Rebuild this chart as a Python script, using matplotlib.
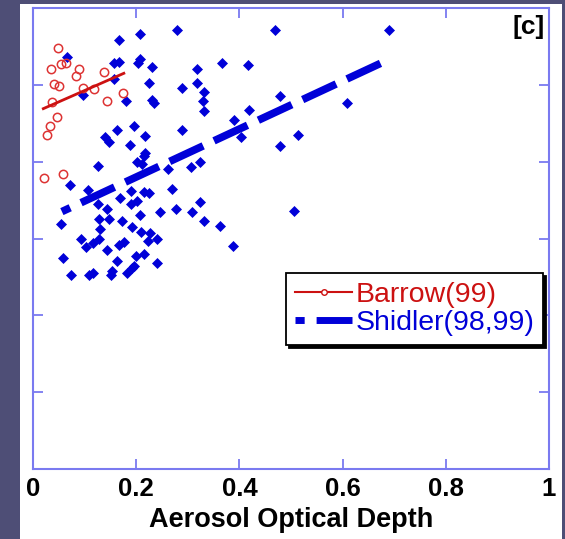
import matplotlib

matplotlib.use("Agg")
import matplotlib.pyplot as plt
from matplotlib.lines import Line2D
from matplotlib.patches import Rectangle
import numpy as np

# Barrow (1999) points: aerosol optical depth vs (unlabelled) y quantity
barrow_x = [0.048, 0.035, 0.054, 0.064, 0.090, 0.083, 0.041, 0.051, 0.096, 0.119,
            0.137, 0.174, 0.144, 0.037, 0.046, 0.032, 0.028, 0.021, 0.059]
barrow_y = [5.48, 5.20, 5.27, 5.29, 5.21, 5.11, 5.01, 4.98, 4.96, 4.94,
            5.17, 4.90, 4.79, 4.78, 4.58, 4.46, 4.35, 3.79, 3.84]
barrow_fit_x = [0.020, 0.176]
barrow_fit_y = [4.69, 5.15]

# Shidler (1998, 1999) points
shidler_x = [0.065, 0.167, 0.207, 0.279, 0.157, 0.167, 0.204, 0.207, 0.230, 0.318,
             0.157, 0.096, 0.180, 0.225, 0.289, 0.318, 0.230, 0.234, 0.163, 0.196,
             0.218, 0.139, 0.148, 0.188, 0.289, 0.218, 0.215, 0.125, 0.201, 0.211,
             0.262, 0.306, 0.071, 0.106, 0.125, 0.144, 0.169, 0.190, 0.201, 0.190,
             0.216, 0.225, 0.269, 0.246, 0.277, 0.308, 0.324, 0.207, 0.054, 0.128,
             0.148, 0.172, 0.130, 0.192, 0.209, 0.227, 0.093, 0.128, 0.116, 0.103,
             0.176, 0.166, 0.222, 0.240, 0.143, 0.199, 0.215, 0.058, 0.162, 0.240,
             0.196, 0.191, 0.074, 0.109, 0.117, 0.151, 0.153, 0.182, 0.324, 0.331,
             0.330, 0.331, 0.419, 0.390, 0.403, 0.366, 0.417, 0.469, 0.690, 0.479,
             0.609, 0.513, 0.479, 0.505, 0.331, 0.362, 0.388]
shidler_y = [5.36, 5.59, 5.66, 5.71, 5.28, 5.30, 5.28, 5.33, 5.23, 5.20,
             5.07, 4.87, 4.79, 5.02, 4.96, 5.03, 4.80, 4.76, 4.41, 4.46,
             4.34, 4.32, 4.25, 4.22, 4.41, 4.11, 4.08, 3.94, 3.99, 3.97,
             3.91, 3.93, 3.69, 3.63, 3.45, 3.39, 3.53, 3.62, 3.49, 3.45,
             3.61, 3.59, 3.64, 3.35, 3.39, 3.35, 3.48, 3.31, 3.19, 3.25,
             3.26, 3.23, 3.13, 3.15, 3.08, 3.07, 3.00, 2.99, 2.94, 2.89,
             2.95, 2.91, 2.97, 2.99, 2.85, 2.77, 2.80, 2.74, 2.71, 2.68,
             2.64, 2.61, 2.53, 2.53, 2.55, 2.53, 2.58, 2.55, 4.00, 4.91,
             4.79, 4.66, 4.67, 4.54, 4.32, 5.28, 5.26, 5.71, 5.71, 4.86,
             4.77, 4.35, 4.20, 3.36, 3.23, 3.16, 2.90]
shidler_fit_x = [0.056, 0.680]
shidler_fit_y = [3.35, 5.30]

xticks = [0, 0.2, 0.4, 0.6, 0.8, 1]
xticklabels = ["0", "0.2", "0.4", "0.6", "0.8", "1"]
yticks = [0, 1, 2, 3, 4, 5, 6]

plt.rcParams["font.family"] = ["Liberation Sans", "DejaVu Sans"]
plt.rcParams["lines.scale_dashes"] = False

red = "#cc1111"
blue = "#0000d8"
spine_col = "#7a7af0"

fig = plt.figure(figsize=(5.65, 5.39), dpi=100, facecolor="#4e4e76")
fig.patches.append(Rectangle((20 / 565, 0), 542 / 565, 535 / 539,
                             transform=fig.transFigure, facecolor="white",
                             edgecolor="none", zorder=-5))
ax = fig.add_axes([33 / 565, 70 / 539, 516 / 565, 461 / 539])
ax.set_zorder(1)

ax.plot(shidler_x, shidler_y, linestyle="none", marker="D", markersize=4.6,
        color=blue, markeredgewidth=0.5)
dash_style = (20, (26.6, 8.6))
ax.plot(shidler_fit_x, shidler_fit_y, color=blue, linewidth=5.5,
        linestyle=dash_style)

ax.plot(barrow_x, barrow_y, linestyle="none", marker="o", markersize=6,
        markerfacecolor="none", markeredgecolor="#dd3333", markeredgewidth=1.1)
ax.plot(barrow_fit_x, barrow_fit_y, color=red, linewidth=2)

ax.set_xlim(0, 1)
ax.set_ylim(0, 6)
ax.set_xticks(xticks)
ax.set_xticklabels(xticklabels, fontsize=18.5, fontweight="bold")
ax.set_yticks(yticks)
ax.set_yticklabels([])
ax.tick_params(direction="in", length=7, width=1.3, color=spine_col,
               top=True, right=True, pad=6)
for s in ax.spines.values():
    s.set_color(spine_col)
    s.set_linewidth(1.5)
ax.set_xlabel("Aerosol Optical Depth", fontsize=19.5, fontweight="bold", labelpad=4)

ax.text(0.992, 0.985, "[c]", transform=ax.transAxes, ha="right", va="top",
        fontsize=19, fontweight="bold")

handles = [
    Line2D([], [], color=red, linewidth=1.5, marker="o", markersize=4,
           markerfacecolor="white", markeredgecolor=red),
    Line2D([], [], color=blue, linewidth=5, linestyle=dash_style),
]
leg = ax.legend(handles, ["Barrow(99)", "Shidler(98,99)"], loc="upper right",
                bbox_to_anchor=(0.988, 0.425), borderaxespad=0, fontsize=20.5,
                handlelength=2.0, handletextpad=0.12, borderpad=0.3,
                labelspacing=0.1, fancybox=False, framealpha=1,
                edgecolor="black", shadow={"color": "black", "alpha": 1})
leg.get_frame().set_linewidth(1.3)
leg.get_texts()[0].set_color(red)
leg.get_texts()[1].set_color(blue)

fig.savefig("out.png", dpi=100, facecolor=fig.get_facecolor())
plt.close(fig)
